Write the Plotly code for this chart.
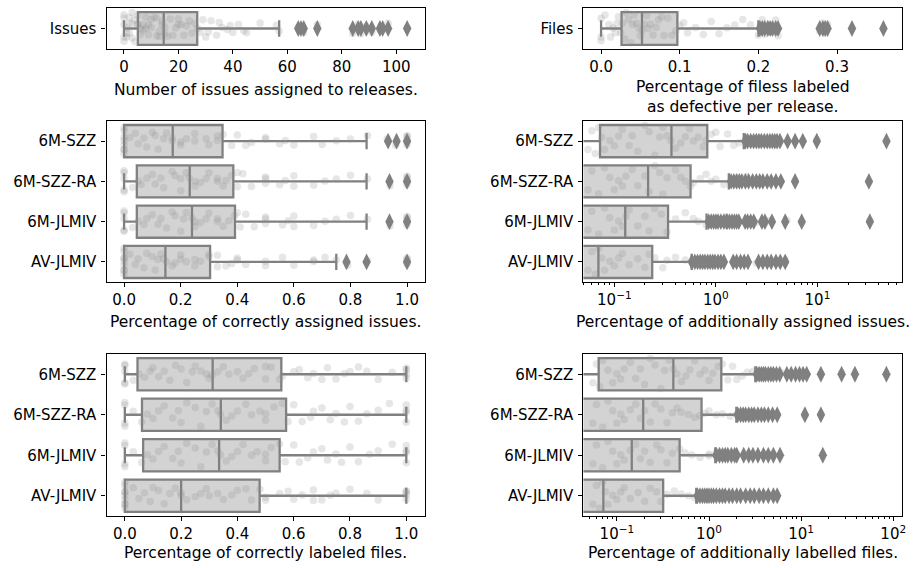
import plotly.graph_objects as go

# ---------------- data ----------------
methods = ["6M-SZZ", "6M-SZZ-RA", "6M-JLMIV", "AV-JLMIV"]

# Panel A: number of issues assigned to releases
issues_label = "Issues"
issues_q1, issues_med, issues_q3, issues_lo, issues_hi = 5.1, 14.6, 26.9, 0, 57
issues_outliers = [64, 65, 66, 71, 84, 86, 87, 89, 91, 94, 95, 97, 104]
issues_strip = [0, 0, 0, 0, 0, 1, 1, 1, 2, 2, 2, 3, 3, 3, 4, 4, 5, 5, 5, 6, 6, 7, 7, 8, 8, 9, 9,
                10, 10, 11, 12, 12, 13, 13, 14, 14, 15, 15, 16, 17, 18, 19, 20, 20, 21, 22, 23,
                24, 25, 26, 27, 28, 29, 30, 31, 32, 34, 35, 36, 38, 39, 40, 42, 44, 45, 50, 56,
                57, 64, 65, 66, 71, 84, 86, 87, 89, 91, 94, 95, 97, 104]

# Panel B: share of files labeled as defective per release
files_label = "Files"
files_q1, files_med, files_q3, files_lo, files_hi = 0.026, 0.052, 0.097, 0.0, 0.2
files_outliers = [0.202, 0.205, 0.208, 0.212, 0.215, 0.218, 0.222, 0.225,
                  0.278, 0.282, 0.285, 0.288, 0.319, 0.359]
files_strip = [0, 0, 0, 0.005, 0.01, 0.012, 0.015, 0.018, 0.02, 0.022, 0.025, 0.027, 0.03,
               0.032, 0.035, 0.038, 0.04, 0.042, 0.045, 0.048, 0.05, 0.052, 0.055, 0.058, 0.06,
               0.063, 0.066, 0.07, 0.073, 0.077, 0.08, 0.085, 0.09, 0.095, 0.1, 0.105, 0.11,
               0.12, 0.13, 0.14, 0.15, 0.16, 0.17, 0.18, 0.19, 0.2, 0.202, 0.205, 0.208, 0.212,
               0.215, 0.218, 0.222, 0.225, 0.278, 0.282, 0.285, 0.288, 0.319, 0.359]

# Panel C: correctly assigned issues
ca_q1 = [0.0, 0.045, 0.045, 0.0]
ca_med = [0.172, 0.232, 0.24, 0.146]
ca_q3 = [0.348, 0.386, 0.392, 0.304]
ca_lo = [0.0, 0.0, 0.0, 0.0]
ca_hi = [0.857, 0.857, 0.857, 0.75]
ca_outliers = [[0.933, 0.963, 1.0], [0.938, 1.0], [0.938, 1.0], [0.786, 0.857, 1.0]]
ca_strip = [
    [0, 0, 0, 0, 0, 0, 0, 0, 0.02, 0.04, 0.05, 0.07, 0.08, 0.1, 0.11, 0.12, 0.14, 0.15, 0.17,
     0.17, 0.2, 0.2, 0.22, 0.25, 0.25, 0.29, 0.3, 0.33, 0.33, 0.35, 0.38, 0.4, 0.43, 0.45, 0.5,
     0.5, 0.55, 0.57, 0.6, 0.67, 0.7, 0.75, 0.8, 0.86, 0.93, 0.96, 1, 1, 1, 1],
    [0, 0, 0, 0, 0, 0.03, 0.05, 0.06, 0.08, 0.1, 0.11, 0.13, 0.14, 0.17, 0.18, 0.2, 0.2, 0.22,
     0.23, 0.25, 0.25, 0.27, 0.29, 0.3, 0.33, 0.33, 0.35, 0.36, 0.38, 0.4, 0.4, 0.42, 0.45, 0.5,
     0.5, 0.5, 0.55, 0.57, 0.6, 0.6, 0.67, 0.71, 0.75, 0.8, 0.86, 0.94, 1, 1, 1, 1],
    [0, 0, 0, 0, 0, 0.03, 0.05, 0.07, 0.08, 0.1, 0.12, 0.13, 0.15, 0.17, 0.18, 0.2, 0.21, 0.22,
     0.24, 0.25, 0.25, 0.27, 0.29, 0.3, 0.33, 0.33, 0.35, 0.37, 0.39, 0.4, 0.41, 0.43, 0.46, 0.5,
     0.5, 0.5, 0.56, 0.58, 0.6, 0.6, 0.67, 0.71, 0.75, 0.8, 0.86, 0.94, 1, 1, 1, 1],
    [0, 0, 0, 0, 0, 0, 0, 0, 0, 0.02, 0.04, 0.05, 0.07, 0.08, 0.1, 0.11, 0.12, 0.13, 0.14, 0.15,
     0.17, 0.18, 0.2, 0.2, 0.22, 0.25, 0.25, 0.27, 0.3, 0.3, 0.33, 0.33, 0.36, 0.38, 0.4, 0.4,
     0.43, 0.5, 0.5, 0.56, 0.6, 0.67, 0.67, 0.71, 0.75, 0.79, 0.86, 1, 1, 1],
]

# Panel D: additionally assigned issues (log scale)
aa_q1 = [0.0723, 0.001, 0.001, 0.001]
aa_med = [0.365, 0.215, 0.128, 0.0697]
aa_q3 = [0.822, 0.563, 0.338, 0.236]
aa_lo = [0.001, 0.001, 0.001, 0.001]
aa_hi = [1.88, 1.34, 0.809, 0.577]
aa_outliers = [
    [1.95, 2.05, 2.2, 2.35, 2.5, 2.65, 2.8, 3.0, 3.2, 3.4, 3.6, 3.8, 4.0, 4.27, 5.08, 6.02, 7.17,
     9.85, 47.8],
    [1.41, 1.5, 1.6, 1.7, 1.8, 1.95, 2.1, 2.3, 2.5, 2.7, 2.9, 3.2, 3.5, 3.9, 4.36, 6.02, 32.1],
    [0.85, 0.9, 0.95, 1.0, 1.05, 1.12, 1.2, 1.27, 1.29, 1.36, 1.44, 1.52, 1.6, 1.68, 1.94,
     2.05, 2.2, 2.36, 2.84, 3.04, 3.56, 4.81, 7.0, 32.8],
    [0.58, 0.62, 0.66, 0.7, 0.74, 0.78, 0.83, 0.88, 0.93, 0.98, 1.05, 1.12, 1.2, 1.48, 1.6,
     1.75, 1.9, 2.07, 2.63, 2.9, 3.2, 3.5, 3.9, 4.3, 4.81],
]
aa_strip = [
    [0.055, 0.06, 0.065, 0.07, 0.075, 0.08, 0.09, 0.1, 0.11, 0.12, 0.14, 0.15, 0.17, 0.2, 0.22,
     0.25, 0.28, 0.3, 0.33, 0.36, 0.4, 0.45, 0.5, 0.55, 0.6, 0.67, 0.75, 0.8, 0.9, 1.0, 1.1, 1.3,
     1.5, 1.7, 2.0, 2.0, 2.5, 3.0, 3.3, 4.0, 5.08, 6.02, 7.17, 9.85, 47.8],
    [0.055, 0.06, 0.07, 0.08, 0.09, 0.1, 0.11, 0.12, 0.13, 0.15, 0.17, 0.2, 0.22, 0.25, 0.28,
     0.3, 0.33, 0.4, 0.45, 0.5, 0.56, 0.6, 0.7, 0.8, 0.9, 1.0, 1.2, 1.4, 1.6, 2.0, 2.0, 2.5, 3.0,
     3.3, 4.0, 6.02, 32.1],
    [0.055, 0.06, 0.07, 0.08, 0.09, 0.1, 0.11, 0.12, 0.13, 0.14, 0.17, 0.2, 0.22, 0.25, 0.29,
     0.33, 0.4, 0.5, 0.6, 0.67, 0.8, 1.0, 1.0, 1.25, 1.5, 2.0, 2.5, 3.0, 3.3, 5.0, 7.0, 32.8],
    [0.055, 0.06, 0.065, 0.07, 0.075, 0.08, 0.09, 0.1, 0.11, 0.12, 0.14, 0.17, 0.2, 0.22, 0.25,
     0.3, 0.33, 0.4, 0.5, 0.6, 0.67, 0.8, 1.0, 1.0, 1.5, 2.0, 2.5, 3.0, 4.0, 4.81],
]

# Panel E: correctly labeled files
cl_q1 = [0.045, 0.061, 0.065, 0.0]
cl_med = [0.312, 0.341, 0.335, 0.2]
cl_q3 = [0.556, 0.573, 0.55, 0.479]
cl_lo = [0.0, 0.0, 0.0, 0.0]
cl_hi = [1.0, 1.0, 1.0, 1.0]
cl_strip = [
    [0, 0, 0, 0, 0, 0.03, 0.05, 0.07, 0.09, 0.1, 0.12, 0.14, 0.16, 0.18, 0.2, 0.22, 0.24, 0.25,
     0.27, 0.29, 0.3, 0.31, 0.33, 0.35, 0.37, 0.4, 0.42, 0.44, 0.46, 0.5, 0.5, 0.52, 0.55, 0.56,
     0.6, 0.62, 0.65, 0.67, 0.7, 0.72, 0.75, 0.78, 0.8, 0.83, 0.86, 0.9, 0.95, 1, 1, 1, 1],
    [0, 0, 0, 0, 0.03, 0.06, 0.08, 0.1, 0.12, 0.14, 0.17, 0.19, 0.2, 0.22, 0.25, 0.27, 0.29, 0.31,
     0.33, 0.34, 0.36, 0.38, 0.4, 0.43, 0.45, 0.48, 0.5, 0.5, 0.53, 0.56, 0.58, 0.6, 0.63, 0.66,
     0.67, 0.7, 0.73, 0.75, 0.78, 0.8, 0.83, 0.86, 0.9, 0.94, 1, 1, 1, 1],
    [0, 0, 0, 0, 0.03, 0.06, 0.08, 0.1, 0.12, 0.14, 0.17, 0.19, 0.2, 0.22, 0.25, 0.27, 0.29, 0.31,
     0.33, 0.34, 0.36, 0.38, 0.4, 0.42, 0.45, 0.47, 0.5, 0.5, 0.52, 0.55, 0.57, 0.6, 0.62, 0.65,
     0.67, 0.7, 0.72, 0.75, 0.77, 0.8, 0.83, 0.87, 0.9, 0.95, 1, 1, 1, 1],
    [0, 0, 0, 0, 0, 0, 0, 0, 0, 0.03, 0.05, 0.07, 0.09, 0.1, 0.12, 0.14, 0.16, 0.18, 0.2, 0.2,
     0.22, 0.25, 0.27, 0.29, 0.3, 0.33, 0.35, 0.38, 0.4, 0.43, 0.45, 0.48, 0.5, 0.5, 0.55, 0.58,
     0.6, 0.63, 0.67, 0.67, 0.7, 0.73, 0.75, 0.8, 0.86, 0.9, 1, 1, 1, 1],
]

# Panel F: additionally labelled files (log scale)
al_q1 = [0.0634, 0.001, 0.001, 0.001]
al_med = [0.41, 0.193, 0.145, 0.0713]
al_q3 = [1.36, 0.83, 0.48, 0.318]
al_lo = [0.001, 0.001, 0.001, 0.001]
al_hi = [3.18, 1.98, 1.17, 0.727]
al_outliers = [
    [3.3, 3.5, 3.7, 3.9, 4.1, 4.4, 4.7, 5.0, 5.4, 5.86, 7.0, 7.8, 8.7, 9.6, 10.5, 11.5, 16.4,
     27.5, 38.4, 84.3],
    [2.05, 2.2, 2.35, 2.5, 2.7, 2.9, 3.1, 3.4, 3.7, 4.0, 4.4, 4.9, 5.5, 11.0, 16.4],
    [1.2, 1.3, 1.4, 1.5, 1.6, 1.75, 1.9, 2.0, 2.38, 2.7, 3.0, 3.4, 3.9, 4.4, 5.0, 5.9, 17.2],
    [0.75, 0.8, 0.85, 0.9, 0.95, 1.0, 1.06, 1.12, 1.2, 1.3, 1.4, 1.5, 1.65, 1.8, 2.0, 2.2, 2.5,
     2.8, 3.1, 3.5, 3.9, 4.4, 5.0, 5.5],
]
al_strip = [
    [0.055, 0.06, 0.065, 0.07, 0.08, 0.09, 0.1, 0.11, 0.12, 0.14, 0.16, 0.18, 0.2, 0.23, 0.26,
     0.3, 0.33, 0.37, 0.41, 0.45, 0.5, 0.56, 0.62, 0.7, 0.8, 0.9, 1.0, 1.1, 1.25, 1.4, 1.6, 1.8,
     2.0, 2.3, 2.6, 3.0, 3.5, 4.0, 5.0, 6.0, 10.5, 11.5, 16.4, 27.5, 38.4, 84.3],
    [0.055, 0.06, 0.07, 0.08, 0.09, 0.1, 0.11, 0.12, 0.14, 0.16, 0.18, 0.2, 0.23, 0.26, 0.3,
     0.35, 0.4, 0.45, 0.5, 0.6, 0.7, 0.8, 0.9, 1.0, 1.2, 1.4, 1.7, 2.0, 2.5, 3.0, 4.0, 5.0,
     11.0, 11.0, 16.4],
    [0.055, 0.06, 0.07, 0.08, 0.09, 0.1, 0.11, 0.12, 0.14, 0.16, 0.18, 0.2, 0.23, 0.27, 0.3,
     0.35, 0.4, 0.48, 0.55, 0.65, 0.8, 1.0, 1.0, 1.2, 1.5, 2.0, 2.5, 3.0, 4.0, 5.0, 5.9, 17.2],
    [0.055, 0.06, 0.065, 0.07, 0.075, 0.08, 0.09, 0.1, 0.11, 0.12, 0.14, 0.17, 0.2, 0.23, 0.27,
     0.3, 0.35, 0.42, 0.5, 0.6, 0.7, 0.85, 1.0, 1.0, 1.3, 1.6, 2.0, 2.5, 3.0, 4.0, 5.0],
]

# Axis titles and ticks
title_a = "Number of issues assigned to releases."
title_b = "Percentage of filess labeled<br>as defective per release."
title_c = "Percentage of correctly assigned issues."
title_d = "Percentage of additionally assigned issues."
title_e = "Percentage of correctly labeled files."
title_f = "Percentage of additionally labelled files."
log_tickvals = [0.1, 1, 10, 100]
log_ticktext = ["10<sup>−1</sup>", "10<sup>0</sup>", "10<sup>1</sup>", "10<sup>2</sup>"]

# ---------------- style ----------------
BOX_FILL = "#d3d3d3"
BOX_LINE = "#808080"
STRIP_COLOR = "rgba(140,140,140,0.22)"
FONT = "DejaVu Sans"
FS_TITLE = 15.5
FS_TICK = 15
W, H = 923, 568

fig = go.Figure()


def add_panel(n, cats, q1, med, q3, lo, hi, outliers, strips):
    xa = "x" if n == 1 else f"x{n}"
    ya = "y" if n == 1 else f"y{n}"
    fig.add_trace(go.Box(
        orientation="h", y=cats, q1=q1, median=med, q3=q3, lowerfence=lo, upperfence=hi,
        fillcolor=BOX_FILL, line=dict(color=BOX_LINE, width=2.3), whiskerwidth=0.5,
        boxpoints=False, xaxis=xa, yaxis=ya, showlegend=False, hoverinfo="skip"))
    for cat, vals in zip(cats, strips):
        fig.add_trace(go.Box(
            orientation="h", x=vals, y=[cat] * len(vals), boxpoints="all", jitter=1.0,
            pointpos=0, fillcolor="rgba(0,0,0,0)", line=dict(width=0, color="rgba(0,0,0,0)"),
            marker=dict(color=STRIP_COLOR, size=7.5, line=dict(width=0)),
            xaxis=xa, yaxis=ya, showlegend=False, hoverinfo="x"))
    for cat, vals in zip(cats, outliers):
        fig.add_trace(go.Scatter(
            x=vals, y=[cat] * len(vals), mode="markers",
            marker=dict(symbol="diamond-tall", size=12, color=BOX_LINE, line=dict(width=0)),
            xaxis=xa, yaxis=ya, showlegend=False, hoverinfo="x"))


add_panel(1, [issues_label], [issues_q1], [issues_med], [issues_q3], [issues_lo], [issues_hi],
          [issues_outliers], [issues_strip])
add_panel(2, [files_label], [files_q1], [files_med], [files_q3], [files_lo], [files_hi],
          [files_outliers], [files_strip])
add_panel(3, methods, ca_q1, ca_med, ca_q3, ca_lo, ca_hi, ca_outliers, ca_strip)
add_panel(4, methods, aa_q1, aa_med, aa_q3, aa_lo, aa_hi, aa_outliers, aa_strip)
add_panel(5, methods, cl_q1, cl_med, cl_q3, cl_lo, cl_hi, [[] for _ in methods], cl_strip)
add_panel(6, methods, al_q1, al_med, al_q3, al_lo, al_hi, al_outliers, al_strip)

xL = [107 / W, 427 / W]
xR = [586 / W, 906 / W]
yTop = [1 - 49 / H, 1 - 8 / H]
yMid = [1 - 282 / H, 1 - 121 / H]
yBot = [1 - 516 / H, 1 - 354 / H]

tickfont = dict(family=FONT, size=FS_TICK, color="black")
common_x = dict(showline=True, mirror=True, linecolor="black", linewidth=1.3, ticks="outside",
                ticklen=4, tickwidth=1, tickcolor="black", showgrid=False, zeroline=False,
                ticklabelstandoff=0, tickfont=tickfont)
common_y = dict(showline=True, mirror=True, linecolor="black", linewidth=1.3, ticks="outside",
                ticklen=4, tickwidth=1, tickcolor="black", showgrid=False, zeroline=False,
                type="category", ticklabelstandoff=2, tickfont=tickfont)

minor_vals = [m * 10 ** e for e in (-2, -1, 0, 1) for m in range(2, 10)]
log_minor = dict(ticks="outside", ticklen=2.2, tickwidth=0.8, tickcolor="black",
                 tickvals=minor_vals, showgrid=False)

layout = dict(
    width=W, height=H, margin=dict(l=0, r=0, t=0, b=0, pad=0),
    paper_bgcolor="white", plot_bgcolor="white",
    font=dict(family=FONT, size=FS_TICK, color="black"),
    boxmode="overlay", boxgap=0.2, boxgroupgap=0,
    xaxis=dict(common_x, domain=xL, anchor="y", range=[-6.4, 110.6], tickvals=[0, 20, 40, 60, 80, 100]),
    yaxis=dict(common_y, domain=yTop, anchor="x", range=[0.5, -0.5]),
    xaxis2=dict(common_x, domain=xR, anchor="y2", range=[-0.0224, 0.3827],
                tickvals=[0.0, 0.1, 0.2, 0.3], tickformat=".1f"),
    yaxis2=dict(common_y, domain=yTop, anchor="x2", range=[0.5, -0.5]),
    xaxis3=dict(common_x, domain=xL, anchor="y3", range=[-0.062, 1.064],
                tickvals=[0, 0.2, 0.4, 0.6, 0.8, 1.0], tickformat=".1f"),
    yaxis3=dict(common_y, domain=yMid, anchor="x3", range=[3.5, -0.5],
                categoryorder="array", categoryarray=methods),
    xaxis4=dict(common_x, domain=xR, anchor="y4", type="log", range=[-1.304, 1.833],
                tickvals=log_tickvals, ticktext=log_ticktext, minor=log_minor),
    yaxis4=dict(common_y, domain=yMid, anchor="x4", range=[3.5, -0.5],
                categoryorder="array", categoryarray=methods),
    xaxis5=dict(common_x, domain=xL, anchor="y5", range=[-0.065, 1.067],
                tickvals=[0, 0.2, 0.4, 0.6, 0.8, 1.0], tickformat=".1f"),
    yaxis5=dict(common_y, domain=yBot, anchor="x5", range=[3.5, -0.5],
                categoryorder="array", categoryarray=methods),
    xaxis6=dict(common_x, domain=xR, anchor="y6", type="log", range=[-1.363, 2.096],
                tickvals=log_tickvals, ticktext=log_ticktext, minor=log_minor),
    yaxis6=dict(common_y, domain=yBot, anchor="x6", range=[3.5, -0.5],
                categoryorder="array", categoryarray=methods),
)
fig.update_layout(**layout)

ann = [
    (title_a, (xL[0] + xL[1]) / 2, 1 - 90 / H),
    (title_b, (xR[0] + xR[1]) / 2, 1 - 97 / H),
    (title_c, (xL[0] + xL[1]) / 2, 1 - 322 / H),
    (title_d, (xR[0] + xR[1]) / 2, 1 - 322 / H),
    (title_e, (xL[0] + xL[1]) / 2, 1 - 553 / H),
    (title_f, (xR[0] + xR[1]) / 2, 1 - 553 / H),
]
for text, x, y in ann:
    fig.add_annotation(text=text, x=x, y=y, xref="paper", yref="paper", showarrow=False,
                       xanchor="center", yanchor="middle", align="center", borderpad=0,
                       font=dict(family=FONT, size=FS_TITLE, color="black"))

fig.write_html("out.html")
